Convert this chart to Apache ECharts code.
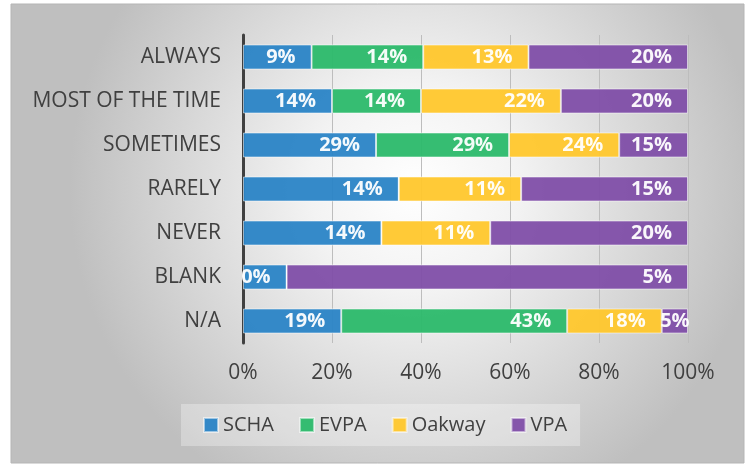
<!DOCTYPE html>
<html>
<head>
<meta charset="utf-8">
<script src="https://cdn.jsdelivr.net/npm/echarts@6/dist/echarts.min.js"></script>
<style>
  html, body { margin: 0; padding: 0; background: #ffffff; }
  #chart { width: 750px; height: 465px; }
</style>
</head>
<body>
<div id="chart"></div>
<script>
// answers, top row first
var categories = ['ALWAYS', 'MOST OF THE TIME', 'SOMETIMES', 'RARELY', 'NEVER', 'BLANK', 'N/A'];
var seriesNames = ['SCHA', 'EVPA', 'Oakway', 'VPA'];

// share of each program's respondents (%), as printed in the labels
var scha   = [8.6, 14, 29, 14, 14, 0.49, 18.7];
var evpa   = [14, 14, 29, 0, 0, 0, 43];
var oakway = [13.2, 22, 24, 11, 11, 0, 18];
var vpa    = [20, 20, 15, 15, 20, 4.51, 5];

var xTicks = [0, 20, 40, 60, 80, 100];

var colors = ['#2a84c6', '#2bb96a', '#ffc72c', '#7f4ea8'];
var raw = [scha, evpa, oakway, vpa];

// each row is drawn as 100% stacked
var rowTotals = categories.map(function (c, i) {
  return scha[i] + evpa[i] + oakway[i] + vpa[i];
});

var font = '"Open Sans", sans-serif';

var series = raw.map(function (vals, s) {
  return {
    name: seriesNames[s],
    type: 'bar',
    stack: 'total',
    barWidth: 25,
    itemStyle: {
      color: colors[s],
      opacity: 0.95,
      borderColor: 'rgba(255,255,255,0.55)',
      borderWidth: 1
    },
    label: {
      show: true,
      position: 'insideRight',
      distance: 16,
      color: '#ffffff',
      fontFamily: font,
      fontWeight: 'bold',
      fontSize: 20,
      formatter: function (p) {
        var v = vals[p.dataIndex];
        return v === 0 ? '' : Math.round(v) + '%';
      }
    },
    data: vals.map(function (v, i) {
      var pct = v / rowTotals[i] * 100;
      var item = { value: pct };
      // too narrow for the text: Excel centres it
      if (v > 0 && pct < 8) {
        item.label = { position: 'inside' };
      }
      return item;
    })
  };
});

var option = {
  animation: false,
  graphic: [{
    type: 'rect',
    z: -10,
    shape: { x: 11, y: 4, width: 733, height: 459 },
    style: {
      fill: new echarts.graphic.RadialGradient(0.55, 0.4, 0.75, [
        { offset: 0, color: '#ffffff' },
        { offset: 0.3, color: '#f3f3f3' },
        { offset: 1, color: '#bfbfbf' }
      ]),
      stroke: '#b5b5b5',
      lineWidth: 1
    }
  }],
  legend: {
    data: seriesNames,
    left: 181,
    top: 404,
    padding: [11, 13, 11, 22],
    itemGap: 25,
    itemWidth: 14,
    itemHeight: 14,
    icon: 'rect',
    backgroundColor: 'rgba(255,255,255,0.3)',
    textStyle: { fontFamily: font, fontSize: 20, color: '#404040' }
  },
  grid: {
    left: 243,
    right: 62,
    top: 35,
    bottom: 122
  },
  xAxis: {
    type: 'value',
    min: xTicks[0],
    max: xTicks[xTicks.length - 1],
    interval: xTicks[1] - xTicks[0],
    axisLine: { show: false },
    axisTick: { show: false },
    splitLine: { lineStyle: { color: '#bdbdbd', width: 1 } },
    axisLabel: {
      margin: 20,
      fontFamily: font,
      fontSize: 21,
      color: '#404040',
      formatter: '{value}%'
    }
  },
  yAxis: {
    type: 'category',
    inverse: true,
    data: categories,
    axisLine: { show: true, lineStyle: { color: '#404040', width: 3 } },
    axisTick: { show: false },
    axisLabel: {
      margin: 22,
      fontFamily: font,
      fontSize: 21,
      color: '#404040'
    }
  },
  series: series
};

var myChart = echarts.init(document.getElementById('chart'));
myChart.setOption(option);
</script>
</body>
</html>
